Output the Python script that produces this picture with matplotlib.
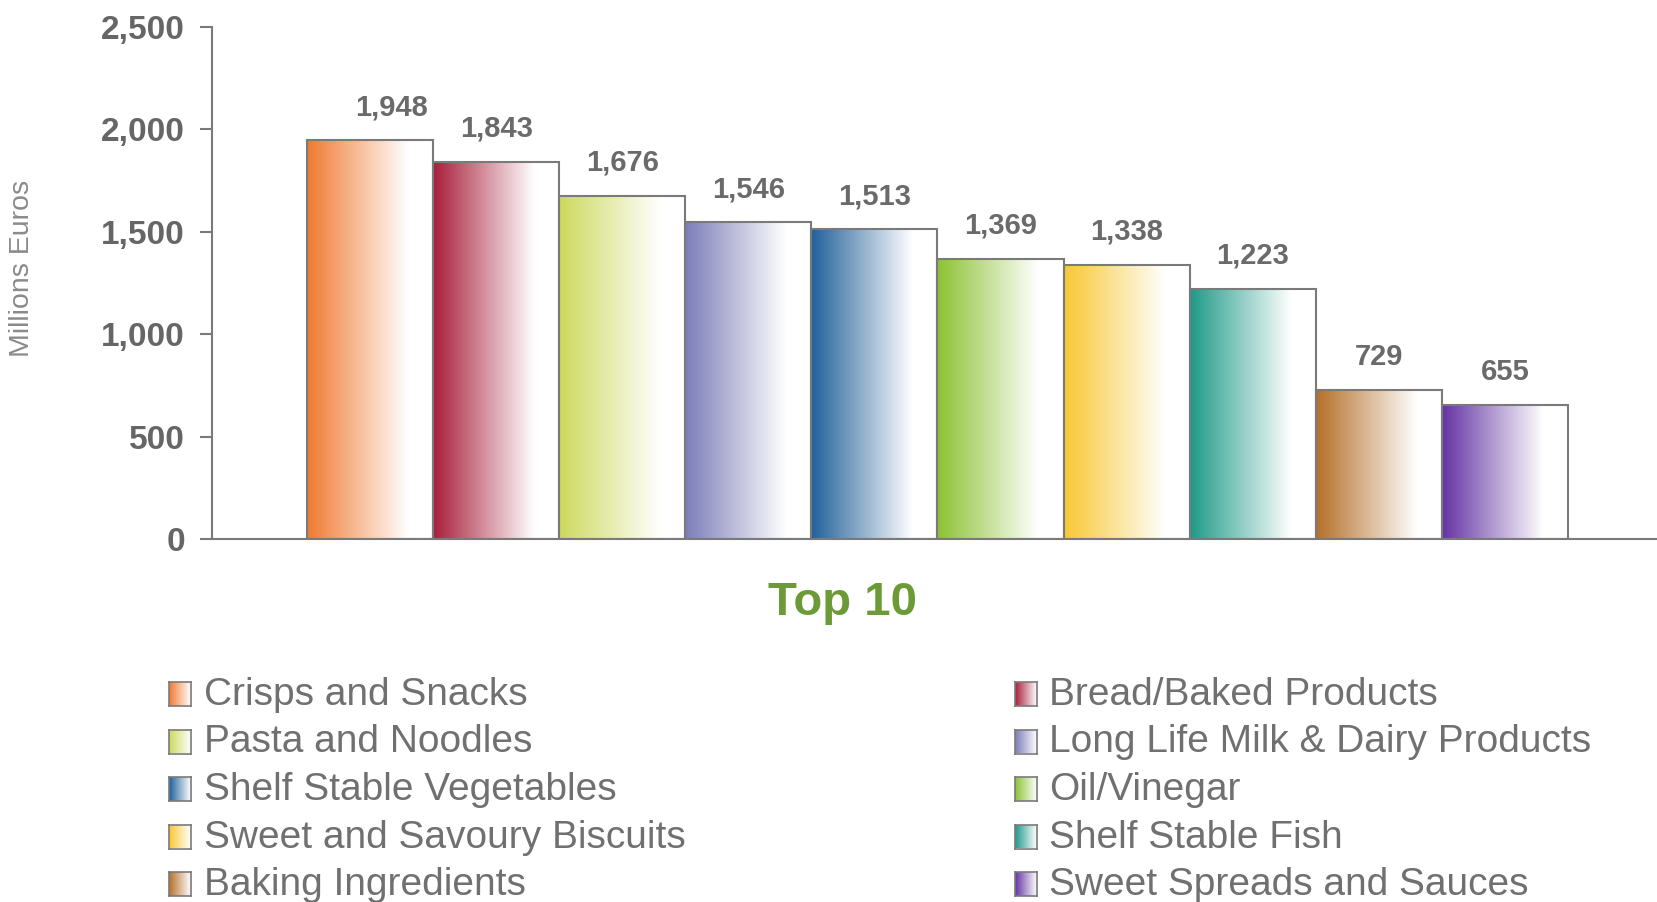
import numpy as np
import matplotlib
matplotlib.use("Agg")
import matplotlib.pyplot as plt
import matplotlib.colors as mcolors
from matplotlib.ticker import FuncFormatter

plt.rcParams["font.family"] = ["Liberation Sans", "DejaVu Sans"]

# 数据
categories = ["Crisps and Snacks", "Bread/Baked Products", "Pasta and Noodles",
              "Long Life Milk & Dairy Products", "Shelf Stable Vegetables", "Oil/Vinegar",
              "Sweet and Savoury Biscuits", "Shelf Stable Fish", "Baking Ingredients",
              "Sweet Spreads and Sauces"]
values = [1948, 1843, 1676, 1546, 1513, 1369, 1338, 1223, 729, 655]
colors = ["#F07A32", "#A81E3A", "#CDD95C", "#7C7EB8", "#21609A",
          "#8CC232", "#F8C832", "#1E9A88", "#B57029", "#6433A3"]

W, H = 1657, 902
fig = plt.figure(figsize=(W / 100, H / 100), dpi=100)
ax = fig.add_axes([212 / W, 1 - 539 / H, 1 - 212 / W, (539 - 27) / H])

x = np.arange(len(values))
bars = ax.bar(x, values, width=1.0, facecolor="none", edgecolor="#7a7a7a",
              linewidth=1.5, zorder=3)


def grad_img(col, n=256, stop=0.8):
    rgb = np.array(mcolors.to_rgb(col))
    t = np.clip(np.linspace(0, 1, n) / stop, 0, 1)
    img = rgb[None, :] * (1 - t[:, None]) + t[:, None]
    return img[None, :, :]


# 渐变填充
for rect, col in zip(bars, colors):
    x0, w, h = rect.get_x(), rect.get_width(), rect.get_height()
    im = ax.imshow(grad_img(col), extent=[x0, x0 + w, 0, h], aspect="auto",
                   zorder=2, interpolation="bilinear")
    im.set_clip_path(rect)

# 数值标签
for i, (rect, v) in enumerate(zip(bars, values)):
    dx = 21 if i == 0 else 0
    ax.annotate(f"{v:,}", (rect.get_x() + rect.get_width() / 2, v),
                xytext=(dx, 25), textcoords="offset pixels", ha="center",
                va="baseline", fontsize=21, fontweight="bold", color="#6a6a6a")

ax.set_xlim(-1.2534, 10.206)
ax.set_ylim(0, 2500)
ax.set_yticks([0, 500, 1000, 1500, 2000, 2500])
ax.yaxis.set_major_formatter(FuncFormatter(lambda v, p: f"{int(v):,}"))
ax.tick_params(axis="y", length=8.6, width=1.5, color="#7a7a7a", pad=11,
               labelsize=24, labelcolor="#666666")
for lab in ax.get_yticklabels():
    lab.set_fontweight("bold")
ax.set_xticks([])
for s in ["top", "right"]:
    ax.spines[s].set_visible(False)
for s in ["left", "bottom"]:
    ax.spines[s].set_color("#7a7a7a")
    ax.spines[s].set_linewidth(1.5)

fig.text(22 / W, 1 - 268 / H, "Millions Euros", rotation=90, ha="center",
         va="center", fontsize=20.5, color="#8a8a8a")

fig.text(842 / W, 1 - 603 / H, "Top 10", ha="center", va="center",
         fontsize=34, fontweight="bold", color="#6B9A36")

# 图例
col_marker_x = [169, 1015]
col_text_x = [204, 1049]
for i, (name, col) in enumerate(zip(categories, colors)):
    c, r = i % 2, i // 2
    base = 705 + r * 47.5
    max_ = fig.add_axes([col_marker_x[c] / W, 1 - (base + 1) / H, 22 / W, 24 / H])
    max_.imshow(grad_img(col, stop=1.0), aspect="auto", extent=[0, 1, 0, 1])
    max_.set_xticks([])
    max_.set_yticks([])
    for sp in max_.spines.values():
        sp.set_color("#7a7a7a")
        sp.set_linewidth(1.2)
    fig.text(col_text_x[c] / W, 1 - base / H, name, ha="left", va="baseline",
             fontsize=28, color="#707070")

fig.savefig("out.png", dpi=100)
